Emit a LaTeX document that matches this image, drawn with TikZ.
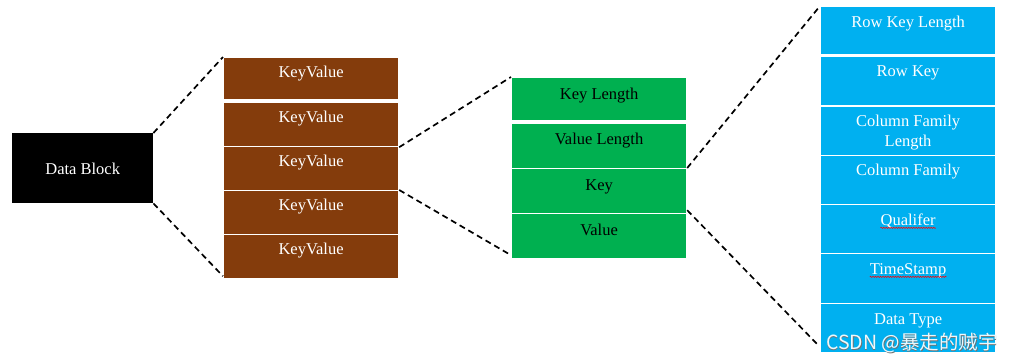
\documentclass[tikz,border=0pt]{standalone}
\usepackage{fontspec}
\setmainfont{Liberation Serif}
\newfontfamily\cjkwm{Noto Sans CJK SC}
\usetikzlibrary{decorations.pathmorphing}
\definecolor{kvbrown}{HTML}{843C0C}
\definecolor{kvgreen}{HTML}{00B050}
\definecolor{kvblue}{HTML}{00B0F0}
\tikzset{
  cell/.style={draw=white, line width=1.2pt, anchor=north west, inner sep=0pt, minimum width=175pt},
  browncell/.style={cell, fill=kvbrown, minimum height=44pt},
  greencell/.style={cell, fill=kvgreen, minimum height=45pt},
  bluecell/.style={cell, fill=kvblue, minimum height=49.3pt},
  lbl/.style={font=\fontsize{16.5}{20}\selectfont, inner sep=0pt, align=center},
  wlbl/.style={lbl, text=white},
  blbl/.style={lbl, text=black},
  zoomline/.style={draw=black, line width=1.7pt, dash pattern=on 6pt off 4pt},
  spell/.style={draw=red, line width=0.5pt, decorate, decoration={snake, amplitude=0.7pt, segment length=2.5pt}},
  wmark/.style={font=\cjkwm\fontsize{19.5}{22}\selectfont, anchor=west, inner sep=0pt}
}
\begin{document}
\begin{tikzpicture}[x=1pt, y=-1pt]
\useasboundingbox (0,0) rectangle (1013,362);
% Data block
\node[anchor=north west, fill=black, minimum width=141pt, minimum height=70pt, inner sep=0pt] (db) at (12,133) {};
\node[wlbl] (dbt) at ([yshift=-1pt]db.center) {Data Block};
% Brown key values
\node[browncell, minimum height=42pt] (k1) at (223,57) {};
\node[browncell] (k2) at (223,102) {};
\node[browncell] (k3) at (223,146) {};
\node[browncell] (k4) at (223,190) {};
\node[browncell] (k5) at (223,234) {};
\foreach \k in {k1,k2,k3,k4,k5} {
  \node[wlbl] (\k t) at ([yshift=-17pt]\k.north) {KeyValue};
}
% Green
\node[greencell, minimum height=43pt] (g1) at (511,77) {};
\node[greencell] (g2) at (511,123) {};
\node[greencell] (g3) at (511,168) {};
\node[greencell] (g4) at (511,213) {};
\node[blbl] (g1t) at ([yshift=-18.5pt]g1.north) {Key Length};
\node[blbl] (g2t) at ([yshift=-17.5pt]g2.north) {Value Length};
\node[blbl] (g3t) at ([yshift=-19pt]g3.north) {Key};
\node[blbl] (g4t) at ([yshift=-17pt]g4.north) {Value};
% Blue
\node[bluecell, minimum height=48pt] (b1) at (820,6) {};
\node[bluecell] (b2) at (820,56) {};
\node[bluecell] (b3) at (820,105.3) {};
\node[bluecell] (b4) at (820,154.6) {};
\node[bluecell] (b5) at (820,203.9) {};
\node[bluecell] (b6) at (820,253.2) {};
\node[bluecell] (b7) at (820,302.5) {};
\node[wlbl] (b1t) at ([yshift=-17.5pt]b1.north) {Row Key Length};
\node[wlbl] (b2t) at ([yshift=-17pt]b2.north) {Row Key};
\node[wlbl] (b3t) at ([yshift=-27pt]b3.north) {Column Family\\Length};
\node[wlbl] (b4t) at ([yshift=-17pt]b4.north) {Column Family};
\node[wlbl] (b5t) at ([yshift=-17pt]b5.north) {Qualifer};
\node[wlbl] (b6t) at ([yshift=-17.5pt]b6.north) {TimeStamp};
\node[wlbl] (b7t) at ([yshift=-18pt]b7.north) {Data Type};
\draw[spell] ([yshift=-2.5pt]b5t.base west) -- ([yshift=-2.5pt]b5t.base east);
\draw[spell] ([yshift=-2.5pt]b6t.base west) -- ([yshift=-2.5pt]b6t.base east);
% zoom lines
\draw[zoomline] (db.north east) -- (k1.north west);
\draw[zoomline] (db.south east) -- ([yshift=3pt]k5.south west);
\draw[zoomline] (k2.south east) -- (g1.north west);
\draw[zoomline] (k4.north east) -- ([yshift=4pt]g4.south west);
\draw[zoomline] (g3.north east) -- (b1.north west);
\draw[zoomline] ([yshift=4pt]g3.south east) -- ([xshift=-2pt,yshift=8pt]b7.south west);
% watermark
\node[wmark, text=black!55] (wms) at (826.7,343.7) {CSDN @暴走的贼宇};
\node[wmark, text=white!92!kvblue] (wm) at (826,343) {CSDN @暴走的贼宇};
\end{tikzpicture}
\end{document}
